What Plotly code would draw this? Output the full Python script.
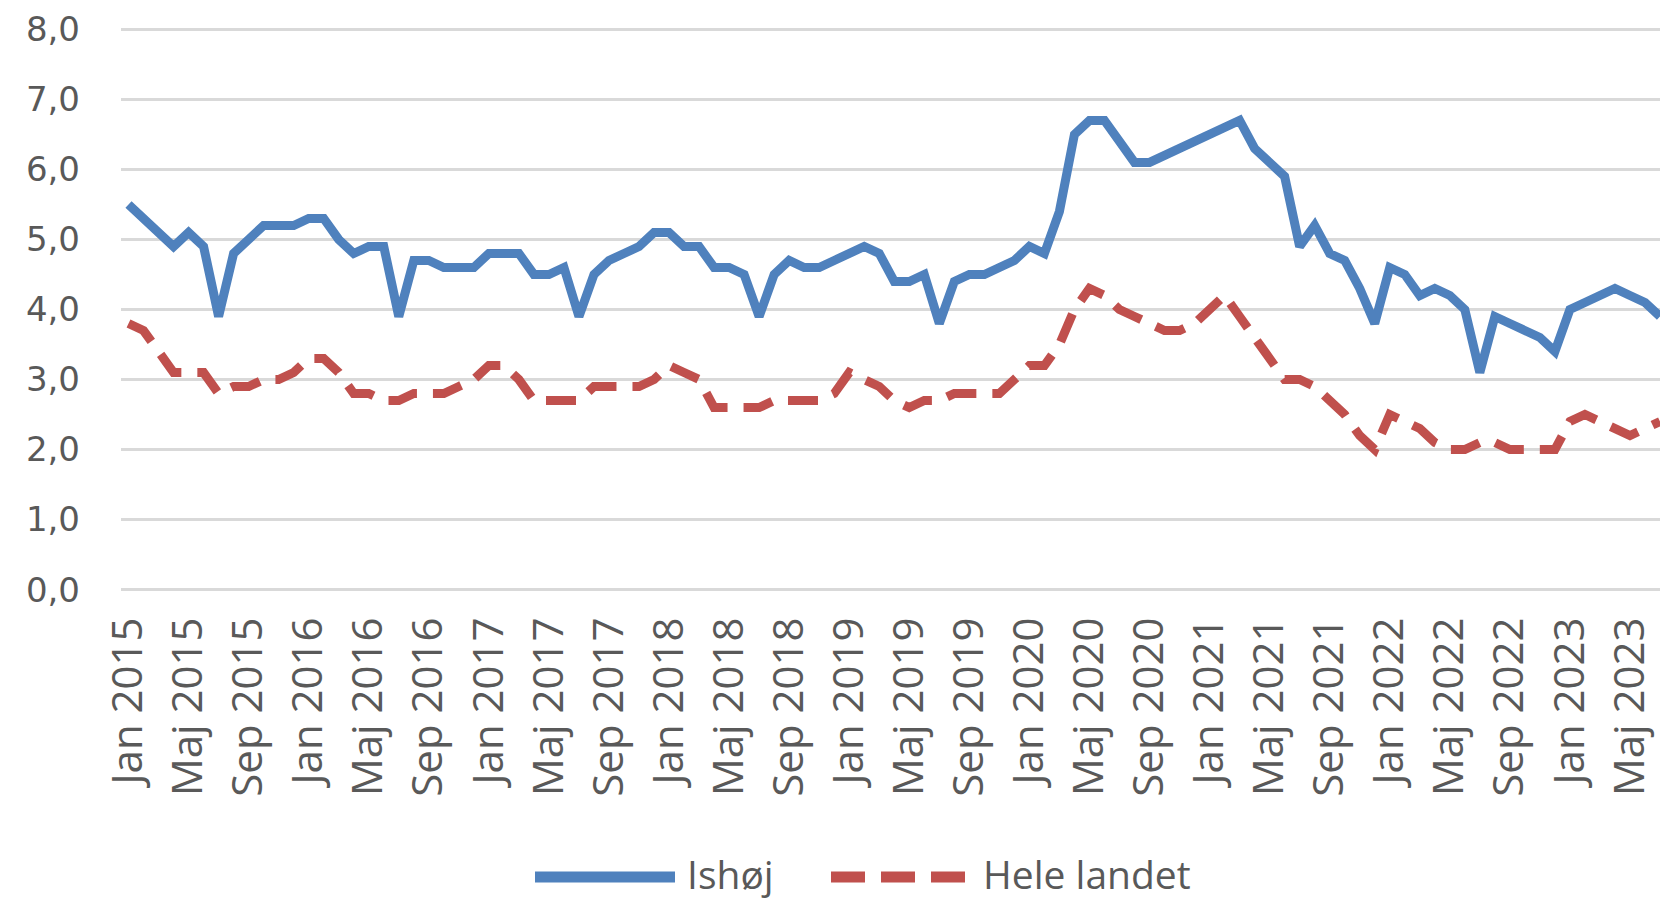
import plotly.graph_objects as go

month_names = ["Jan", "Feb", "Mar", "Apr", "Maj", "Jun", "Jul", "Aug", "Sep", "Okt", "Nov", "Dec"]
years = [2015, 2016, 2017, 2018, 2019, 2020, 2021, 2022, 2023]

ishoej = [
    5.5, 5.3, 5.1, 4.9, 5.1, 4.9, 3.9, 4.8, 5.0, 5.2, 5.2, 5.2,
    5.3, 5.3, 5.0, 4.8, 4.9, 4.9, 3.9, 4.7, 4.7, 4.6, 4.6, 4.6,
    4.8, 4.8, 4.8, 4.5, 4.5, 4.6, 3.9, 4.5, 4.7, 4.8, 4.9, 5.1,
    5.1, 4.9, 4.9, 4.6, 4.6, 4.5, 3.9, 4.5, 4.7, 4.6, 4.6, 4.7,
    4.8, 4.9, 4.8, 4.4, 4.4, 4.5, 3.8, 4.4, 4.5, 4.5, 4.6, 4.7,
    4.9, 4.8, 5.4, 6.5, 6.7, 6.7, 6.4, 6.1, 6.1, 6.2, 6.3, 6.4,
    6.5, 6.6, 6.7, 6.3, 6.1, 5.9, 4.9, 5.2, 4.8, 4.7, 4.3, 3.8,
    4.6, 4.5, 4.2, 4.3, 4.2, 4.0, 3.1, 3.9, 3.8, 3.7, 3.6, 3.4,
    4.0, 4.1, 4.2, 4.3, 4.2, 4.1, 3.9,
]

hele_landet = [
    3.8, 3.7, 3.4, 3.1, 3.1, 3.1, 2.8, 2.9, 2.9, 3.0, 3.0, 3.1,
    3.3, 3.3, 3.1, 2.8, 2.8, 2.7, 2.7, 2.8, 2.8, 2.8, 2.9, 3.0,
    3.2, 3.2, 3.0, 2.7, 2.7, 2.7, 2.7, 2.9, 2.9, 2.9, 2.9, 3.0,
    3.2, 3.1, 3.0, 2.6, 2.6, 2.6, 2.6, 2.7, 2.7, 2.7, 2.7, 2.8,
    3.1, 3.0, 2.9, 2.7, 2.6, 2.7, 2.7, 2.8, 2.8, 2.8, 2.8, 3.0,
    3.2, 3.2, 3.5, 4.0, 4.3, 4.2, 4.0, 3.9, 3.8, 3.7, 3.7, 3.8,
    4.0, 4.2, 3.9, 3.6, 3.3, 3.0, 3.0, 2.9, 2.7, 2.5, 2.2, 2.0,
    2.5, 2.4, 2.3, 2.1, 2.0, 2.0, 2.1, 2.1, 2.0, 2.0, 2.0, 2.0,
    2.4, 2.5, 2.4, 2.3, 2.2, 2.3, 2.4,
]

all_months = [f"{m} {y}" for y in years for m in month_names]
categories = all_months[:len(ishoej)]
tick_labels = categories[::4]

y_ticks = [0, 1, 2, 3, 4, 5, 6, 7, 8]

BLUE = "#4F81BD"
RED = "#C0504D"
GRID = "#D9D9D9"
TXT = "#595959"

fig = go.Figure()
fig.add_trace(go.Scatter(x=categories, y=ishoej, mode="lines", name="Ishøj",
                         line=dict(color=BLUE, width=9), showlegend=False))
fig.add_trace(go.Scatter(x=categories, y=hele_landet, mode="lines", name="Hele landet",
                         line=dict(color=RED, width=9, dash="30px,16px"), showlegend=False))

W, H = 1660, 900
L, R, T, B = 121, 0, 28, 309
pw = W - L - R
ph = H - T - B


def px_x(x):
    return (x - L) / pw


def px_y(y):
    return (H - B - y) / ph


# custom legend (Excel style long samples)
leg_y = px_y(877)
fig.add_shape(type="line", xref="paper", yref="paper", x0=px_x(535), x1=px_x(675),
              y0=leg_y, y1=leg_y, line=dict(color=BLUE, width=11))
fig.add_shape(type="line", xref="paper", yref="paper", x0=px_x(831), x1=px_x(967),
              y0=leg_y, y1=leg_y, line=dict(color=RED, width=11, dash="34px,16px"))
fig.add_annotation(xref="paper", yref="paper", x=px_x(685), y=px_y(873), text="Ishøj",
                   showarrow=False, xanchor="left", yanchor="middle",
                   font=dict(family="Open Sans", size=39, color=TXT))
fig.add_annotation(xref="paper", yref="paper", x=px_x(981), y=px_y(873), text="Hele landet",
                   showarrow=False, xanchor="left", yanchor="middle",
                   font=dict(family="Open Sans", size=39, color=TXT))

fig.update_layout(
    width=W, height=H,
    margin=dict(l=L, r=R, t=T, b=B, pad=0),
    plot_bgcolor="white", paper_bgcolor="white",
    separators=",.",
    showlegend=False,
    xaxis=dict(
        type="category",
        range=[-0.5, len(categories) - 1.0],
        tickmode="array", tickvals=tick_labels, ticktext=tick_labels,
        tickangle=-90,
        showgrid=False, zeroline=False, showline=False, ticks="",
        tickfont=dict(family="Open Sans", size=42, color=TXT),
        ticklabelstandoff=17,
        automargin=False,
    ),
    yaxis=dict(
        range=[-0.02, 8.02],
        tickmode="array", tickvals=y_ticks,
        tickformat=".1f",
        showgrid=True, gridcolor=GRID, gridwidth=3,
        zeroline=False, showline=False, ticks="",
        tickfont=dict(family="DejaVu Sans", size=34, color=TXT),
        ticklabelstandoff=40,
        automargin=False,
    ),
)

fig.write_html(
    "out.html",
    config={"displayModeBar": False},
    post_script="document.body.style.margin='0';document.body.style.overflow='hidden';",
)
